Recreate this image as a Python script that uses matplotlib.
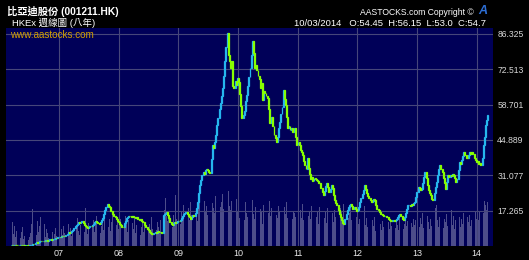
import matplotlib
matplotlib.use('Agg')
import matplotlib.pyplot as plt
import matplotlib.dates as mdates
import numpy as np
import pandas as pd

plt.rcParams['font.family'] = ['Liberation Sans', 'Noto Sans CJK TC', 'DejaVu Sans']

# ---------------- data (weekly closes, HK$) ----------------
close_2006 = [3.9, 3.8, 3.9, 4.0, 3.9, 3.8, 3.7, 3.8, 3.9, 3.8,
              3.7, 3.7, 3.6, 3.7, 3.6, 3.6, 3.7, 3.8, 4.0, 4.3,
              4.2, 4.6, 4.9, 4.7, 5.0, 5.3, 5.5, 5.4, 5.6, 5.5,
              5.8, 5.7, 5.6, 5.9, 6.1, 5.9, 6.0, 6.2, 6.3, 6.6,
              6.5, 6.9]
close_2007 = [7.1, 7.0, 7.3, 7.2, 7.5, 7.4, 7.7, 8.2, 8.8, 8.5,
              9.0, 9.4, 9.7, 10.3, 11.2, 11.8, 12.2, 12.7, 12.4, 12.9,
              13.1, 12.6, 11.8, 11.2, 10.9, 10.5, 11.0, 11.4, 11.2, 11.8,
              12.2, 12.8, 13.3, 12.7, 12.4, 12.0, 12.9, 13.6, 14.4, 16.0,
              17.5, 18.8, 20.0, 19.2, 18.5, 17.3, 17.0, 15.9, 15.3, 14.6,
              14.0, 13.3, 12.8]
close_2008 = [12.1, 11.6, 11.0, 10.7, 12.5, 13.4, 14.2, 14.6, 15.3, 15.0,
              14.6, 15.1, 14.8, 14.6, 14.3, 14.8, 14.1, 13.7, 13.9, 13.2,
              12.9, 12.7, 11.5, 11.0, 10.2, 9.6, 9.0, 8.6, 8.2, 8.0,
              8.4, 8.9, 8.7, 9.2, 9.0, 8.8, 8.9, 8.6, 15.4, 15.8,
              16.2, 16.9, 15.6, 14.2, 13.0, 12.1, 11.5, 12.3, 12.9, 12.5,
              13.0, 13.4]
close_2009 = [13.1, 13.5, 14.2, 15.1, 15.8, 16.4, 16.75, 15.9, 15.2, 14.6,
              14.1, 14.8, 15.4, 15.0, 16.5, 18.4, 20.7, 24.0, 27.1, 29.2,
              31.0, 32.4, 31.6, 33.0, 33.7, 33.2, 32.4, 31.8, 37.5, 42.9,
              41.8, 44.2, 47.0, 50.7, 53.5, 56.8, 59.2, 62.0, 65.1, 70.0,
              75.6, 81.0, 86.5, 78.0, 75.6, 72.8, 75.6, 66.0, 65.1, 68.0,
              66.5, 69.0]
close_2010 = [67.5, 63.0, 58.0, 53.4, 54.5, 56.0, 59.9, 62.5, 66.0, 69.5,
              73.0, 78.0, 83.5, 79.0, 72.9, 74.0, 72.3, 70.0, 68.5, 65.1,
              67.0, 60.5, 64.0, 63.2, 62.0, 61.2, 57.0, 51.4, 52.5, 54.0,
              50.5, 47.0, 45.5, 44.2, 46.0, 49.4, 52.0, 55.0, 57.9, 64.5,
              61.0, 58.6, 54.0, 49.4, 50.5, 48.8, 49.5, 48.1, 48.6, 49.4,
              46.0, 42.9]
close_2011 = [44.0, 42.9, 41.0, 40.0, 38.9, 36.5, 35.0, 33.7, 37.7, 34.0,
              31.5, 29.8, 30.5, 29.0, 30.2, 29.6, 29.2, 28.8, 28.2, 27.9,
              26.0, 24.5, 23.3, 25.0, 26.8, 27.9, 26.5, 24.6, 25.8, 27.2,
              26.0, 23.5, 21.5, 20.2, 19.3, 17.5, 15.8, 14.8, 13.5, 12.6,
              12.2, 14.0, 15.8, 17.4, 18.6, 19.4, 20.0, 19.0, 18.0, 18.6,
              17.8, 17.2]
close_2012 = [17.4, 18.5, 20.5, 22.3, 23.9, 25.5, 27.2, 25.9, 24.0, 23.0,
              22.2, 21.5, 20.7, 21.0, 22.0, 21.3, 19.5, 18.0, 17.5, 16.8,
              16.1, 15.8, 15.5, 15.0, 15.3, 14.8, 14.6, 14.0, 13.6, 13.3,
              13.1, 13.5, 13.3, 13.8, 14.1, 14.6, 15.5, 16.1, 15.0, 14.0,
              13.5, 14.8, 16.2, 17.8, 19.3, 19.6, 19.2, 20.0, 19.5, 20.2,
              20.7, 22.5, 24.5]
close_2013 = [26.6, 26.0, 25.4, 25.9, 28.0, 30.5, 32.4, 30.0, 27.2, 25.5,
              24.0, 23.3, 22.0, 21.3, 24.0, 26.5, 28.5, 31.0, 33.5, 35.0,
              33.5, 32.4, 30.0, 28.0, 25.9, 28.5, 31.1, 30.5, 31.1, 30.8,
              31.5, 31.1, 30.0, 28.5, 29.5, 33.0, 36.3, 35.5, 36.9, 38.5,
              40.3, 39.0, 38.0, 37.7, 39.0, 40.0, 39.2, 40.3, 39.5, 38.0,
              37.0, 36.3]
close_2014 = [36.8, 35.5, 35.8, 35.0, 38.0, 42.9, 46.0, 50.7, 52.5, 54.7]

# ---------------- weekly volume (relative units) ----------------
vol_2006 = [18, 24, 12, 20, 9, 15, 22, 11, 8, 14,
            19, 7, 10, 16, 12, 6, 9, 13, 22, 37,
            15, 18, 11, 25, 14, 20, 29, 16, 12, 22,
            9, 17, 13, 8, 19, 11, 14, 7, 12, 18,
            10, 15]
vol_2007 = [14, 9, 17, 11, 20, 13, 8, 16, 22, 12,
            18, 10, 15, 24, 13, 19, 28, 15, 11, 21,
            17, 9, 14, 38, 18, 12, 23, 16, 10, 19,
            26, 14, 21, 30, 17, 25, 13, 20, 28, 16,
            34, 22, 40, 19, 27, 15, 24, 33, 18, 48,
            21, 29, 17]
vol_2008 = [20, 27, 15, 24, 18, 30, 22, 14, 26, 19,
            12, 23, 17, 28, 13, 21, 16, 25, 11, 19,
            24, 14, 20, 27, 12, 18, 22, 15, 29, 17,
            13, 21, 16, 24, 19, 14, 26, 20, 105, 36,
            48, 30, 25, 33, 22, 28, 19, 31, 24, 51,
            27, 35]
vol_2009 = [30, 22, 35, 27, 41, 24, 33, 29, 38, 26,
            44, 31, 36, 28, 42, 34, 25, 39, 47, 32,
            37, 29, 45, 35, 40, 31, 48, 36, 27, 43,
            38, 33, 50, 41, 35, 46, 39, 44, 52, 37,
            65, 42, 48, 55, 40, 36, 45, 33, 41, 38,
            47, 34]
vol_2010 = [35, 28, 42, 31, 38, 26, 44, 33, 29, 40,
            36, 24, 46, 32, 27, 39, 30, 43, 25, 37,
            34, 22, 41, 29, 36, 27, 33, 45, 30, 38,
            26, 35, 42, 31, 28, 40, 34, 37, 51, 65,
            39, 32, 44, 28, 36, 30, 41, 27, 35, 33,
            29, 38]
vol_2011 = [31, 24, 36, 28, 42, 26, 33, 38, 58, 30,
            35, 27, 40, 32, 25, 37, 29, 34, 22, 39,
            31, 26, 44, 28, 35, 23, 38, 30, 27, 41,
            33, 24, 36, 29, 46, 31, 25, 38, 34, 27,
            42, 30, 23, 36, 28, 33, 40, 26, 31, 35,
            24, 29]
vol_2012 = [30, 22, 27, 18, 33, 25, 40, 21, 28, 19,
            24, 31, 17, 26, 20, 29, 15, 23, 27, 18,
            22, 16, 25, 19, 28, 14, 21, 24, 17, 26,
            20, 15, 23, 18, 27, 21, 16, 30, 19, 24,
            17, 22, 28, 20, 25, 18, 33, 23, 19, 27,
            21, 26, 24]
vol_2013 = [25, 19, 28, 22, 33, 18, 26, 21, 30, 24,
            17, 27, 20, 31, 23, 38, 41, 26, 19, 29,
            22, 34, 18, 27, 24, 32, 20, 28, 25, 36,
            21, 30, 17, 26, 38, 23, 29, 19, 27, 22,
            33, 25, 18, 29, 24, 31, 20, 26, 28, 22,
            35, 27]
vol_2014 = [30, 26, 34, 28, 38, 33, 45, 41, 36, 44]

year_labels = ['07', '08', '09', '10', '11', '12', '13', '14']
year_starts = ['2007-01-01', '2008-01-01', '2009-01-01', '2010-01-01',
               '2011-01-01', '2012-01-01', '2013-01-01', '2014-01-01']
price_ticks = [17.265, 31.077, 44.889, 58.701, 72.513, 86.325]
price_tick_labels = ['17.265', '31.077', '44.889', '58.701', '72.513', '86.325']

title = '比亞迪股份 (001211.HK)'
subtitle = 'HKEx 週線圖 (八年)'
site = 'www.aastocks.com'
copyright_txt = 'AASTOCKS.com Copyright ©'
quote_txt = '10/03/2014   O:54.45  H:56.15  L:53.0  C:54.7'

close = (close_2006 + close_2007 + close_2008 + close_2009 + close_2010 +
         close_2011 + close_2012 + close_2013 + close_2014)
volume = (vol_2006 + vol_2007 + vol_2008 + vol_2009 + vol_2010 +
          vol_2011 + vol_2012 + vol_2013 + vol_2014)
assert len(close) == len(volume), (len(close), len(volume))

dates = pd.date_range(end='2014-03-10', periods=len(close), freq='7D')
close_arr = np.array(close)
open_arr = np.concatenate([[close_arr[0]], close_arr[:-1]])
up = close_arr >= open_arr

# ---------------- figure ----------------
W, H = 529, 260
fig = plt.figure(figsize=(W / 100, H / 100), dpi=100, facecolor='black')
axv = fig.add_axes([6 / W, 14 / H, 487 / W, 218 / H])
axv.set_facecolor('#000058')
ax = axv.twinx()
ax.set_zorder(axv.get_zorder() + 1)
ax.patch.set_visible(False)

# volume bars
axv.bar(dates, volume, width=4.0, color='#8282ac', alpha=0.6, linewidth=0)
axv.set_ylim(0, 218)
axv.set_yticks([])

# price as weekly candles (open = previous close)
up_c, dn_c = '#26b6ee', '#88ff00'
lo = np.minimum(open_arr, close_arr)
hi = np.maximum(open_arr, close_arr)
ax.bar(dates[up], (hi - lo)[up], bottom=lo[up], width=6.0,
       facecolor='none', edgecolor=up_c, linewidth=0.9, zorder=3)
ax.bar(dates[~up], (hi - lo)[~up], bottom=lo[~up], width=6.0,
       facecolor=dn_c, edgecolor=dn_c, linewidth=0.9, zorder=3)

ax.set_ylim(3.453, 88.6)
ax.set_xlim(pd.Timestamp('2006-02-10'), pd.Timestamp('2014-04-11'))

ax.set_yticks(price_ticks, price_tick_labels)
ax.tick_params(axis='y', length=0, colors='#d8d8d8', labelsize=6.2, pad=3)
ax.grid(axis='y', color='#46467a', linewidth=0.8)
for ys in year_starts:
    ax.axvline(pd.Timestamp(ys), color='#46467a', linewidth=0.8, zorder=1)

axv.set_xticks(pd.to_datetime(year_starts), year_labels)
axv.tick_params(axis='x', length=0, colors='#e8e8e8', labelsize=6.5, pad=2.5)

for a in (ax, axv):
    for s in a.spines.values():
        s.set_visible(False)

# ---------------- texts ----------------
def fx(px):
    return px / W

def fy(py):
    return 1 - py / H

fig.text(fx(7), fy(11.5), title, color='white', fontsize=7.4, fontweight='bold', va='center')
fig.text(fx(12), fy(22.5), subtitle, color='white', fontsize=6.8, va='center')
fig.text(fx(10), fy(35), site, color='#d4a000', fontsize=7.1, va='center')
fig.text(fx(474), fy(12), copyright_txt, color='white', fontsize=6.2, va='center', ha='right')
fig.text(fx(483), fy(11.5), 'A', color='#2d6fd6', fontsize=9, fontweight='bold',
         fontstyle='italic', va='center', ha='center')
fig.text(fx(486), fy(23.5), quote_txt, color='white', fontsize=6.8, va='center', ha='right')

fig.savefig('out.png', dpi=100, facecolor='black')
